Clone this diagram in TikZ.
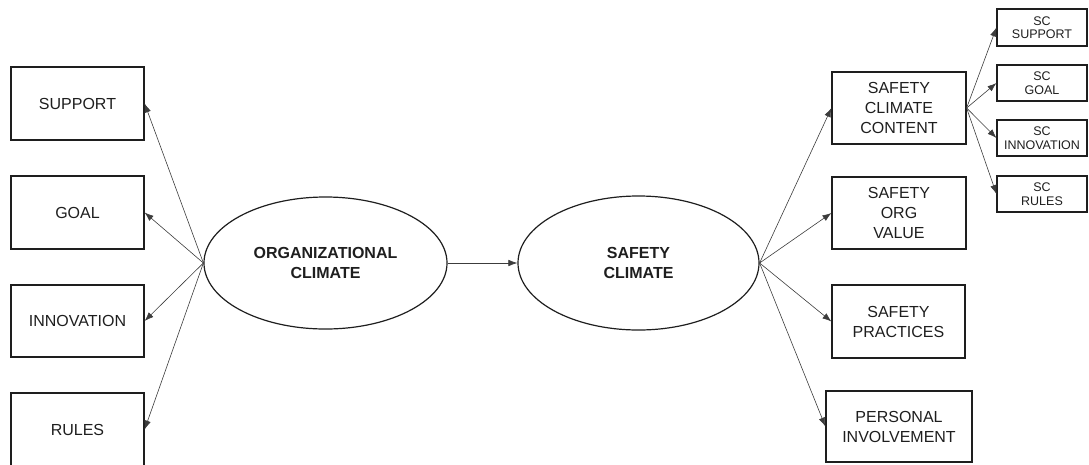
\documentclass[tikz,border=0pt]{standalone}
\usepackage{fontspec}
\setmainfont{Liberation Sans}
\definecolor{ink}{HTML}{1E1E1E}
\definecolor{wire}{HTML}{3C3C3C}
\usepackage{tikz}
\usetikzlibrary{shapes.geometric, arrows.meta}

\begin{document}
\begin{tikzpicture}[x=1pt, y=-1pt,
    box/.style={draw=ink, line width=1.2pt, text=ink, align=center, inner sep=0pt,
      minimum width=133pt, minimum height=73pt, font=\fontsize{16}{20}\selectfont},
    smallbox/.style={draw=ink, line width=1.1pt, text=ink, align=center, inner sep=0pt,
      minimum width=90pt, minimum height=36pt, font=\fontsize{12.5}{13.5}\selectfont},
    latent/.style={ellipse, draw=ink, line width=1.2pt, text=ink, align=center, inner sep=0pt,
      font=\fontsize{16}{20}\selectfont\bfseries},
    link/.style={draw=wire, line width=0.6pt, -{Latex[length=9pt,width=6.5pt]}}]
  \useasboundingbox (0,0) rectangle (1089,464);

  % organizational climate and its four facets
  \node[latent, minimum width=243pt, minimum height=132pt] (oc) at (325.5,263) {ORGANIZATIONAL\\CLIMATE};
  \node[box] (support) at (77.5,103.5) {SUPPORT};
  \node[box] (goal) at (77.5,212.5) {GOAL};
  \node[box, minimum height=72pt] (innovation) at (77.5,321) {INNOVATION};
  \node[box] (rules) at (77.5,429.5) {RULES};

  % safety climate and its dimensions
  \node[latent, minimum width=241pt, minimum height=134pt] (sc) at (638.5,263) {SAFETY\\CLIMATE};
  \node[box, minimum width=134pt, minimum height=72pt] (content) at (899,108) {SAFETY\\CLIMATE\\CONTENT};
  \node[box, minimum width=134pt, minimum height=72pt] (orgvalue) at (899,213) {SAFETY\\ORG\\VALUE};
  \node[box] (practices) at (898.5,321.5) {SAFETY\\PRACTICES};
  \node[box, minimum width=146pt, minimum height=71pt] (involvement) at (899,426.5) {PERSONAL\\INVOLVEMENT};

  % sub-dimensions of the content
  \node[smallbox, minimum height=37pt] (scsupport) at (1042,27.5) {SC\\SUPPORT};
  \node[smallbox] (scgoal) at (1042,83) {SC\\GOAL};
  \node[smallbox] (scinnovation) at (1042,138) {SC\\INNOVATION};
  \node[smallbox] (scrules) at (1042,194) {SC\\RULES};

  \foreach \facet in {support, goal, innovation, rules}
    \draw[link] (oc.west) -- (\facet.east);
  \draw[link] (oc.east) -- (sc.west);
  \foreach \dim in {content, orgvalue, practices, involvement}
    \draw[link] (sc.east) -- (\dim.west);
  \foreach \sub in {scsupport, scgoal, scinnovation, scrules}
    \draw[link] (content.east) -- (\sub.west);
\end{tikzpicture}
\end{document}
